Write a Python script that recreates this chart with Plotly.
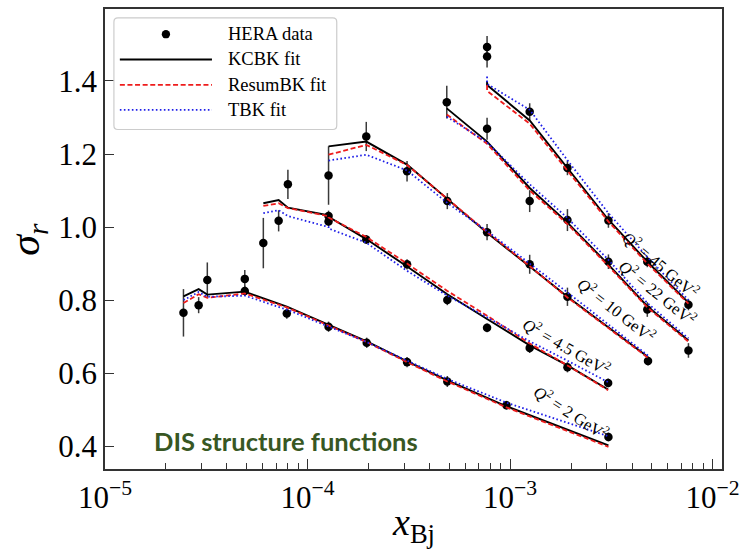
import plotly.graph_objects as go

# ---------------------------------------------------------------------------
# Reduced cross section sigma_r vs x_Bj for five Q^2 bins:
# HERA measurements and three BK-evolution fits.
# ---------------------------------------------------------------------------
q2_labels = ["2", "4.5", "10", "22", "45"]

x_q2_2 = [2.44e-5, 2.9e-5, 3.2e-5, 4.9e-5, 4.9e-5, 7.9e-5, 1.27e-4, 1.96e-4,
          3.1e-4, 4.9e-4, 9.6e-4, 3.06e-3]
hera_q2_2 = [0.765, 0.786, 0.855, 0.858, 0.825, 0.763, 0.727, 0.683,
             0.630, 0.577, 0.512, 0.425]
err_q2_2 = [0.065, 0.022, 0.048, 0.024, 0.014, 0.014, 0.014, 0.014,
            0.014, 0.015, 0.012, 0.012]
kcbk_q2_2 = [0.810, 0.830, 0.815, 0.823, 0.823, 0.782, 0.732, 0.687,
             0.632, 0.580, 0.509, 0.402]
resum_q2_2 = [0.792, 0.816, 0.806, 0.818, 0.818, 0.780, 0.730, 0.685,
              0.630, 0.577, 0.506, 0.398]
tbk_q2_2 = [0.800, 0.822, 0.809, 0.812, 0.812, 0.774, 0.727, 0.685,
            0.634, 0.584, 0.519, 0.427]

x_q2_4p5 = [6.05e-5, 7.2e-5, 8.0e-5, 1.27e-4, 1.27e-4, 1.95e-4, 3.1e-4,
            4.9e-4, 7.7e-4, 1.25e-3, 1.92e-3, 3.05e-3]
hera_q2_4p5 = [0.956, 1.017, 1.117, 1.030, 1.015, 0.966, 0.898,
               0.800, 0.724, 0.669, 0.616, 0.573]
err_q2_4p5 = [0.069, 0.029, 0.040, 0.015, 0.012, 0.012, 0.014,
              0.014, 0.012, 0.014, 0.014, 0.012]
kcbk_q2_4p5 = [1.065, 1.074, 1.053, 1.032, 1.028, 0.967, 0.892,
               0.816, 0.748, 0.676, 0.621, 0.555]
resum_q2_4p5 = [1.058, 1.065, 1.052, 1.030, 1.026, 0.973, 0.900,
                0.825, 0.757, 0.681, 0.621, 0.553]
tbk_q2_4p5 = [1.038, 1.046, 1.030, 1.000, 0.996, 0.957, 0.880,
              0.812, 0.753, 0.687, 0.634, 0.575]

x_q2_10 = [1.27e-4, 1.95e-4, 3.1e-4, 4.9e-4, 7.7e-4, 1.25e-3, 1.92e-3, 4.8e-3]
hera_q2_10 = [1.141, 1.248, 1.153, 1.071, 0.986, 0.898, 0.809, 0.633]
err_q2_10 = [0.080, 0.040, 0.028, 0.022, 0.022, 0.026, 0.025, 0.012]
kcbk_q2_10 = [1.221, 1.234, 1.171, 1.076, 0.984, 0.892, 0.809, 0.644]
resum_q2_10 = [1.198, 1.225, 1.170, 1.078, 0.986, 0.893, 0.807, 0.642]
tbk_q2_10 = [1.182, 1.198, 1.155, 1.066, 0.989, 0.900, 0.821, 0.648]

x_q2_22 = [4.87e-4, 7.7e-4, 1.25e-3, 1.92e-3, 3.06e-3, 4.76e-3, 7.6e-3]
hera_q2_22 = [1.342, 1.269, 1.071, 1.019, 0.905, 0.774, 0.662]
err_q2_22 = [0.045, 0.030, 0.030, 0.030, 0.020, 0.020, 0.020]
kcbk_q2_22 = [1.325, 1.234, 1.107, 1.012, 0.897, 0.783, 0.689]
resum_q2_22 = [1.308, 1.228, 1.100, 1.008, 0.893, 0.780, 0.686]
tbk_q2_22 = [1.302, 1.232, 1.117, 1.025, 0.910, 0.792, 0.695]

x_q2_45 = [7.7e-4, 7.7e-4, 1.25e-3, 1.92e-3, 3.06e-3, 4.76e-3, 7.6e-3]
hera_q2_45 = [1.493, 1.467, 1.316, 1.162, 1.018, 0.905, 0.787]
err_q2_45 = [0.030, 0.030, 0.023, 0.020, 0.020, 0.015, 0.015]
kcbk_q2_45 = [1.400, 1.389, 1.292, 1.162, 1.020, 0.905, 0.793]
resum_q2_45 = [1.389, 1.373, 1.283, 1.155, 1.015, 0.900, 0.790]
tbk_q2_45 = [1.412, 1.392, 1.321, 1.183, 1.038, 0.918, 0.800]

series = [
    (x_q2_2, hera_q2_2, err_q2_2, kcbk_q2_2, resum_q2_2, tbk_q2_2),
    (x_q2_4p5, hera_q2_4p5, err_q2_4p5, kcbk_q2_4p5, resum_q2_4p5, tbk_q2_4p5),
    (x_q2_10, hera_q2_10, err_q2_10, kcbk_q2_10, resum_q2_10, tbk_q2_10),
    (x_q2_22, hera_q2_22, err_q2_22, kcbk_q2_22, resum_q2_22, tbk_q2_22),
    (x_q2_45, hera_q2_45, err_q2_45, kcbk_q2_45, resum_q2_45, tbk_q2_45),
]

x_ticks = [1e-5, 1e-4, 1e-3, 1e-2]
x_tick_text = ["10<sup>−5</sup>", "10<sup>−4</sup>", "10<sup>−3</sup>",
               "10<sup>−2</sup>"]
y_ticks = [0.4, 0.6, 0.8, 1.0, 1.2, 1.4]
legend_names = ["HERA data", "KCBK fit", "ResumBK fit", "TBK fit"]

# --- styling ---------------------------------------------------------------
W, H = 747, 552
L, R, T, B = 105, 728, 7, 469          # plot-area edges in pixels
SERIF = "Liberation Serif"
AXIS_COL = "#333333"
RED, BLUE = "#ee1c1c", "#1f1fe8"
fit_styles = [
    dict(color="black", width=1.9, dash="solid"),
    dict(color=RED, width=1.8, dash="5px,2.6px"),
    dict(color=BLUE, width=1.8, dash="1.6px,2.4px"),
]


def px(xp):
    return (xp - L) / (R - L)


def py(yp):
    return (B - yp) / (B - T)


fig = go.Figure()

# HERA points with error bars
for xs, ys, es, *_ in series:
    fig.add_trace(go.Scatter(
        x=xs, y=ys, mode="markers",
        marker=dict(color="black", size=8.5),
        error_y=dict(type="data", array=es, color="#3a3a3a",
                     thickness=1.5, width=0),
        showlegend=False, hoverinfo="skip",
    ))

# Fit curves (drawn on top of the points)
for k, style in enumerate(fit_styles):
    for s in series:
        fig.add_trace(go.Scatter(
            x=s[0], y=s[3 + k], mode="lines", line=style,
            showlegend=False, hoverinfo="skip",
        ))

shapes = []
annotations = []

# Legend frame (rounded corners)
lx0, ly0, lx1, ly1, rr = 114, 16, 339, 128, 4
path = (
    f"M {px(lx0 + rr)},{py(ly0)} L {px(lx1 - rr)},{py(ly0)} "
    f"Q {px(lx1)},{py(ly0)} {px(lx1)},{py(ly0 + rr)} "
    f"L {px(lx1)},{py(ly1 - rr)} Q {px(lx1)},{py(ly1)} {px(lx1 - rr)},{py(ly1)} "
    f"L {px(lx0 + rr)},{py(ly1)} Q {px(lx0)},{py(ly1)} {px(lx0)},{py(ly1 - rr)} "
    f"L {px(lx0)},{py(ly0 + rr)} Q {px(lx0)},{py(ly0)} {px(lx0 + rr)},{py(ly0)} Z"
)
shapes.append(dict(type="path", xref="paper", yref="paper", path=path,
                   line=dict(color="#cccccc", width=1.2),
                   fillcolor="rgba(255,255,255,0.85)", layer="above"))

row_y = [32.3, 57.7, 83.3, 108.3]
sx0, sx1 = 120, 213
cx, rad = (sx0 + sx1) / 2, 4.2
shapes.append(dict(type="circle", xref="paper", yref="paper",
                   x0=px(cx - rad), x1=px(cx + rad),
                   y0=py(row_y[0] + rad), y1=py(row_y[0] - rad),
                   fillcolor="black", line=dict(color="black", width=0),
                   layer="above"))
for k, style in enumerate(fit_styles):
    yy = py(row_y[k + 1])
    shapes.append(dict(type="line", xref="paper", yref="paper",
                       x0=px(sx0), x1=px(sx1), y0=yy, y1=yy,
                       line=style, layer="above"))
for name, yy in zip(legend_names, row_y):
    annotations.append(dict(
        text=name, xref="paper", yref="paper", x=px(227), y=py(yy),
        xanchor="left", yanchor="middle", align="left", showarrow=False,
        font=dict(family=SERIF, size=18.5, color="black")))

# Q^2 labels along the curves
label_pos = {
    "2": (576, 412, 33),
    "4.5": (571, 346, 30),
    "10": (621, 309, 38),
    "22": (663, 292, 39),
    "45": (666, 264, 40),
}
for q in q2_labels:
    xx, yy, ang = label_pos[q]
    annotations.append(dict(
        text=f"<i>Q</i><sup>2</sup> = {q} GeV<sup>2</sup>",
        xref="paper", yref="paper", x=px(xx), y=py(yy),
        xanchor="center", yanchor="middle", textangle=ang, showarrow=False,
        font=dict(family=SERIF, size=16.5, color="black")))

# Caption inside the plot
annotations.append(dict(
    text="<b>DIS structure functions</b>", xref="paper", yref="paper",
    x=px(152), y=py(441), xanchor="left", yanchor="middle", showarrow=False,
    font=dict(family="Lato", size=25.5, color="#385723")))

# Axis titles
annotations.append(dict(
    text="<i>x</i><sub>Bj</sub>", xref="paper", yref="paper",
    x=px(416), y=py(525), xanchor="center", yanchor="middle",
    showarrow=False, font=dict(family=SERIF, size=38, color="black")))
annotations.append(dict(
    text="<i>σ</i><sub><i>r</i></sub>", xref="paper", yref="paper",
    x=px(27), y=py(238), xanchor="center", yanchor="middle", textangle=-90,
    showarrow=False, font=dict(family=SERIF, size=42, color="black")))

minor_x = [k * 10.0 ** e for e in (-5, -4, -3) for k in range(2, 10)]

fig.update_layout(
    width=W, height=H,
    margin=dict(l=L, r=W - R, t=T, b=H - B, pad=0),
    paper_bgcolor="white", plot_bgcolor="white",
    showlegend=False,
    shapes=shapes, annotations=annotations,
    font=dict(family=SERIF, color="black"),
)
fig.update_xaxes(
    type="log", range=[-5, -5 + (R - L) / 204.5],
    tickmode="array", tickvals=x_ticks, ticktext=x_tick_text,
    showgrid=False, zeroline=False,
    showline=True, linecolor=AXIS_COL, linewidth=1.5, mirror=True,
    ticks="inside", ticklen=10, tickwidth=1.3, tickcolor=AXIS_COL,
    tickfont=dict(family=SERIF, size=31, color="black"),
    minor=dict(tickmode="array", tickvals=minor_x, ticks="inside",
               ticklen=6, tickwidth=1.1, tickcolor=AXIS_COL, showgrid=False),
)
fig.update_yaxes(
    range=[0.4 - (B - 446) / 366.7, 1.4 + (79.3 - T) / 366.7],
    tickmode="array", tickvals=y_ticks,
    ticktext=[f"{v:.1f}" for v in y_ticks],
    showgrid=False, zeroline=False,
    showline=True, linecolor=AXIS_COL, linewidth=1.5, mirror=True,
    ticks="inside", ticklen=9, tickwidth=1.3, tickcolor=AXIS_COL,
    tickfont=dict(family=SERIF, size=31, color="black"),
)

fig.write_html("out.html")
